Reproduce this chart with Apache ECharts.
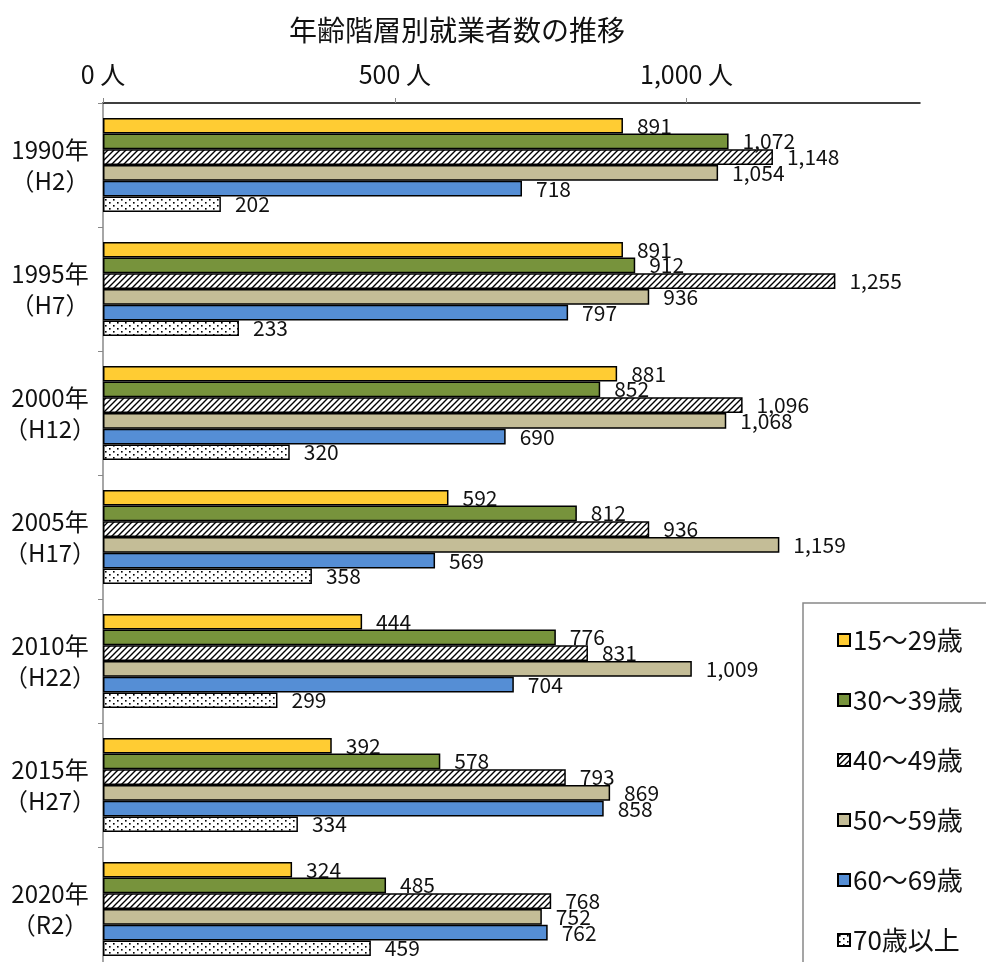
<!DOCTYPE html>
<html>
<head>
<meta charset="utf-8">
<script src="https://cdn.jsdelivr.net/npm/echarts@6/dist/echarts.min.js"></script>
<style>
  html, body { margin: 0; padding: 0; background: #fff; }
  #main { width: 986px; height: 962px; }
</style>
</head>
<body>
<div id="main"></div>
<script>
var years = ['1990年\n（H2）', '1995年\n（H7）', '2000年\n（H12）', '2005年\n（H17）', '2010年\n（H22）', '2015年\n（H27）', '2020年\n（R2）'];
var seriesNames = ['15～29歳', '30～39歳', '40～49歳', '50～59歳', '60～69歳', '70歳以上'];
var age15_29 = [891, 891, 881, 592, 444, 392, 324];
var age30_39 = [1072, 912, 852, 812, 776, 578, 485];
var age40_49 = [1148, 1255, 1096, 936, 831, 793, 768];
var age50_59 = [1054, 936, 1068, 1159, 1009, 869, 752];
var age60_69 = [718, 797, 690, 569, 704, 858, 762];
var age70_up = [202, 233, 320, 358, 299, 334, 459];
var xTicks = [0, 500, 1000];

var FONT = "'Noto Sans CJK JP', sans-serif";

// hatch "////" pattern
function hatch(){
  var c = document.createElement('canvas');
  c.width = 6; c.height = 6;
  var g = c.getContext('2d');
  g.fillStyle = '#fff'; g.fillRect(0, 0, 6, 6);
  g.strokeStyle = '#000'; g.lineWidth = 1.4;
  g.beginPath();
  g.moveTo(-1, 7); g.lineTo(7, -1);
  g.moveTo(-4, 4); g.lineTo(4, -4);
  g.moveTo(2, 10); g.lineTo(10, 2);
  g.stroke();
  return c;
}
function dots(){
  var c = document.createElement('canvas');
  c.width = 8; c.height = 6;
  var g = c.getContext('2d');
  g.fillStyle = '#fff'; g.fillRect(0, 0, 8, 6);
  g.fillStyle = '#000';
  g.fillRect(1, 1, 1.6, 1.6);
  g.fillRect(5, 4, 1.6, 1.6);
  return c;
}

var fills = [
  '#FFCC33',
  '#77933C',
  { image: hatch(), repeat: 'repeat' },
  '#C4BD97',
  '#558ED5',
  { image: dots(), repeat: 'repeat' }
];
var allData = [age15_29, age30_39, age40_49, age50_59, age60_69, age70_up];

var series = seriesNames.map(function(name, i){
  return {
    name: name,
    type: 'bar',
    data: allData[i],
    barGap: '0%',
    barCategoryGap: '24%',
    itemStyle: { color: fills[i], borderColor: '#000', borderWidth: 1.5 },
    label: {
      show: true,
      position: 'right',
      distance: 14,
      color: '#111',
      fontFamily: FONT,
      fontSize: 21,
      formatter: function(p){ return p.value.toLocaleString('en-US'); }
    }
  };
});

var chart = echarts.init(document.getElementById('main'));
chart.setOption({
  animation: false,
  title: {
    text: '年齢階層別就業者数の推移',
    left: 452, top: 11, textAlign: 'center',
    textStyle: { fontFamily: FONT, fontSize: 28, fontWeight: 'normal', color: '#111' }
  },
  legend: {
    orient: 'vertical',
    left: 803, top: 603, height: 420,
    padding: [24, 60, 40, 34],
    itemGap: 34,
    itemWidth: 12, itemHeight: 12,
    icon: 'rect',
    backgroundColor: '#fff',
    borderColor: '#888', borderWidth: 1.5,
    textStyle: { fontFamily: FONT, fontSize: 26, color: '#111', padding: [0, 0, 0, -2] },
    data: seriesNames
  },
  grid: { left: 103, right: 66, top: 103, height: 868, outerBoundsMode: 'none' },
  xAxis: {
    type: 'value',
    position: 'top',
    min: 0, max: 1400, interval: 500,
    axisLine: { show: true, lineStyle: { color: '#000', width: 1.5 } },
    axisTick: { show: true, length: 5, lineStyle: { color: '#888' } },
    splitLine: { show: false },
    axisLabel: {
      showMaxLabel: false,
      margin: 16,
      fontFamily: FONT, fontSize: 25, color: '#111',
      formatter: function(v){ return xTicks.indexOf(v) >= 0 ? v.toLocaleString('en-US') + ' 人' : ''; }
    }
  },
  yAxis: {
    type: 'category',
    inverse: true,
    data: years,
    axisLine: { show: true, lineStyle: { color: '#888', width: 1.5 } },
    axisTick: { show: true, length: 5, lineStyle: { color: '#888' } },
    axisLabel: {
      align: 'center',
      margin: 53,
      lineHeight: 31,
      fontFamily: FONT, fontSize: 24, color: '#111'
    }
  },
  series: series
});
</script>
</body>
</html>
